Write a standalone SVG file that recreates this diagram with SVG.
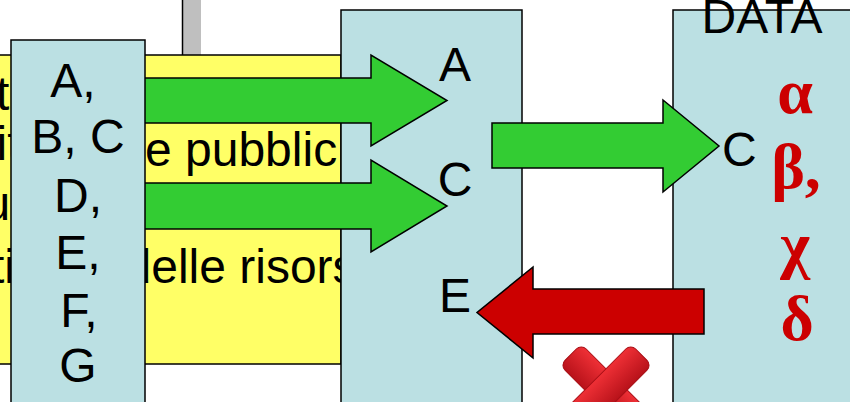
<svg xmlns="http://www.w3.org/2000/svg" width="850" height="402" viewBox="0 0 850 402">
<defs>
<style>
.box{fill:#bbe0e3;stroke:#000;stroke-width:1.5}
.t{font-family:"Liberation Sans",Arial,sans-serif;font-size:48px;fill:#000}
.g{font-family:"Liberation Serif","Times New Roman",serif;font-size:64px;font-weight:bold;fill:#cc0000;text-anchor:middle}
.green{fill:#33cc33;stroke:#000;stroke-width:1.5;stroke-linejoin:miter}
.red{fill:#cc0000;stroke:#000;stroke-width:1.5;stroke-linejoin:miter}
</style>
<linearGradient id="xg" x1="0" y1="0" x2="0" y2="1">
<stop offset="0" stop-color="#ef3036"/>
<stop offset="1" stop-color="#b8121a"/>
</linearGradient>
</defs>
<rect width="850" height="402" fill="#fff"/>
<g id="bar">
<rect x="183" y="-2" width="18" height="58" fill="#bfbfbf"/>
<line x1="182.5" y1="-2" x2="182.5" y2="55" stroke="#000" stroke-width="1.5"/>
</g>
<g id="yellow">
<rect x="-2" y="55" width="343" height="309" fill="#ffff66" stroke="#000" stroke-width="1.5"/>
<text class="t" x="-4" y="110">ta</text>
<text class="t" x="-3.5" y="160">it</text>
<text class="t" x="-16.5" y="220">u</text>
<text class="t" x="-9" y="283">ti</text>
<text class="t" x="145" y="166">e pubblic</text>
<text class="t" x="124.5" y="283">delle risors</text>
</g>
<g id="middle">
<rect class="box" x="341" y="10" width="181" height="400"/>
<text class="t" x="455" y="81" text-anchor="middle">A</text>
<text class="t" x="455" y="196" text-anchor="middle">C</text>
<text class="t" x="455" y="312" text-anchor="middle">E</text>
</g>
<g id="right">
<rect class="box" x="673" y="10" width="190" height="400"/>
<text class="t" x="762" y="33" text-anchor="middle">DATA</text>
<text class="t" x="722" y="166">C</text>
<text class="g" x="795" y="113">α</text>
<text class="g" x="796" y="188">β,</text>
<text class="g" x="795" y="266">χ</text>
<text class="g" x="797" y="340">δ</text>
</g>
<g id="connectors">
<path class="green" d="M140,78 H371 V55 L447,100.5 L371,146 V123 H140 Z"/>
<path class="green" d="M140,183 H371 V160 L447,206 L371,252 V229 H140 Z"/>
<path class="green" d="M492,123 H663 V100 L719,146 L663,192 V168 H492 Z"/>
<path class="red" d="M704,289 H533 V267 L477,312.5 L533,358 V334 H704 Z"/>
</g>
<g id="left">
<rect class="box" x="11" y="40" width="134" height="380"/>
<text class="t" x="73" y="97" text-anchor="middle">A,</text>
<text class="t" x="78" y="153" text-anchor="middle">B, C</text>
<text class="t" x="78" y="212" text-anchor="middle">D,</text>
<text class="t" x="78" y="269" text-anchor="middle">E,</text>
<text class="t" x="79" y="327" text-anchor="middle">F,</text>
<text class="t" x="78" y="382" text-anchor="middle">G</text>
</g>
<g id="cross" fill="url(#xg)" stroke="#a80f16" stroke-width="1">
<rect x="556" y="375" width="100" height="30" rx="7" transform="rotate(45 606 390)"/>
<rect x="556" y="375" width="100" height="30" rx="7" transform="rotate(-45 606 390)"/>
</g>
</svg>
